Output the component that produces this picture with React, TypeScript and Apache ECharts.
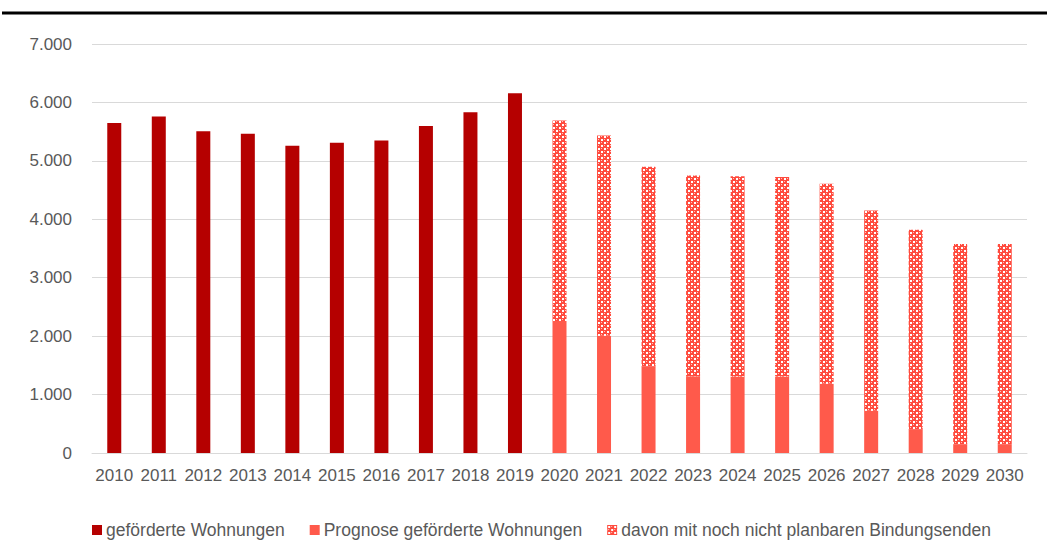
import React, { useEffect, useRef } from "react";
import * as echarts from "echarts";

const years = ["2010","2011","2012","2013","2014","2015","2016","2017","2018","2019","2020","2021","2022","2023","2024","2025","2026","2027","2028","2029","2030"];
const gefoerdert = [5650, 5760, 5505, 5465, 5260, 5310, 5350, 5595, 5830, 6155, null, null, null, null, null, null, null, null, null, null, null];
const prognose = [null, null, null, null, null, null, null, null, null, null, 2260, 2005, 1475, 1315, 1310, 1310, 1185, 725, 400, 150, 150];
const davon = [null, null, null, null, null, null, null, null, null, null, 3430, 3430, 3425, 3435, 3425, 3415, 3425, 3425, 3420, 3425, 3425];
const yMin = 0;
const yMax = 7000;
const yStep = 1000;

const FONT = "'Liberation Sans', Arial, sans-serif";
const TEXT = "#595959";

function makePattern(): string {
  const c = document.createElement("canvas");
  c.width = 6;
  c.height = 6;
  const ctx = c.getContext("2d")!;
  ctx.fillStyle = "#ff4b3e";
  ctx.fillRect(0, 0, 6, 6);
  ctx.fillStyle = "#ffffff";
  ctx.fillRect(1, 1, 2, 2);
  ctx.fillRect(4, 4, 2, 2);
  ctx.fillStyle = "#ffc4be";
  ctx.fillRect(4, 1, 1, 1);
  ctx.fillRect(1, 4, 1, 1);
  return c.toDataURL();
}

export default function App() {
  const ref = useRef<HTMLDivElement>(null);
  useEffect(() => {
    if (!ref.current) return;
    const chart = echarts.init(ref.current, null, { renderer: "svg" });
    const pattern = makePattern();
    chart.setOption({
      animation: false,
      backgroundColor: "#ffffff",
      grid: { left: 92, right: 20, top: 44, bottom: 103, containLabel: false },
      graphic: [
        {
          type: "line",
          shape: { x1: 2, y1: 13, x2: 1047, y2: 13 },
          style: { stroke: "#000000", lineWidth: 3 },
        },
      ],
      legend: {
        left: 87,
        top: 516,
        itemWidth: 10,
        itemHeight: 10,
        itemGap: 25,
        icon: "rect",
        textStyle: { fontFamily: FONT, fontSize: 17.5, color: TEXT, padding: [0, 0, 0, -1] },
        data: ["geförderte Wohnungen", "Prognose geförderte Wohnungen", "davon mit noch nicht planbaren Bindungsenden"],
      },
      xAxis: {
        type: "category",
        data: years,
        axisLine: { show: true, lineStyle: { color: "#d9d9d9", width: 1 } },
        axisTick: { show: false },
        axisLabel: { fontFamily: FONT, fontSize: 17, color: TEXT, margin: 14, interval: 0 },
      },
      yAxis: {
        type: "value",
        min: yMin,
        max: yMax,
        interval: yStep,
        axisLine: { show: false },
        axisTick: { show: false },
        splitLine: { lineStyle: { color: "#d9d9d9", width: 1 } },
        axisLabel: {
          fontFamily: FONT,
          fontSize: 17,
          color: TEXT,
          margin: 20,
          formatter: (v: number) => String(v).replace(/\B(?=(\d{3})+(?!\d))/g, "."),
        },
      },
      series: [
        {
          name: "geförderte Wohnungen",
          type: "bar",
          stack: "total",
          barWidth: 14,
          data: gefoerdert,
          itemStyle: { color: "#b50000" },
        },
        {
          name: "Prognose geförderte Wohnungen",
          type: "bar",
          stack: "total",
          barWidth: 14,
          data: prognose,
          itemStyle: { color: "#ff5a4b" },
        },
        {
          name: "davon mit noch nicht planbaren Bindungsenden",
          type: "bar",
          stack: "total",
          barWidth: 14,
          data: davon,
          itemStyle: { color: { image: pattern, repeat: "repeat" } as any },
        },
      ],
    });
    return () => chart.dispose();
  }, []);
  return (
    <div
      ref={ref}
      style={{ position: "fixed", left: 0, top: 0, width: 1047, height: 556, background: "#fff" }}
    />
  );
}
